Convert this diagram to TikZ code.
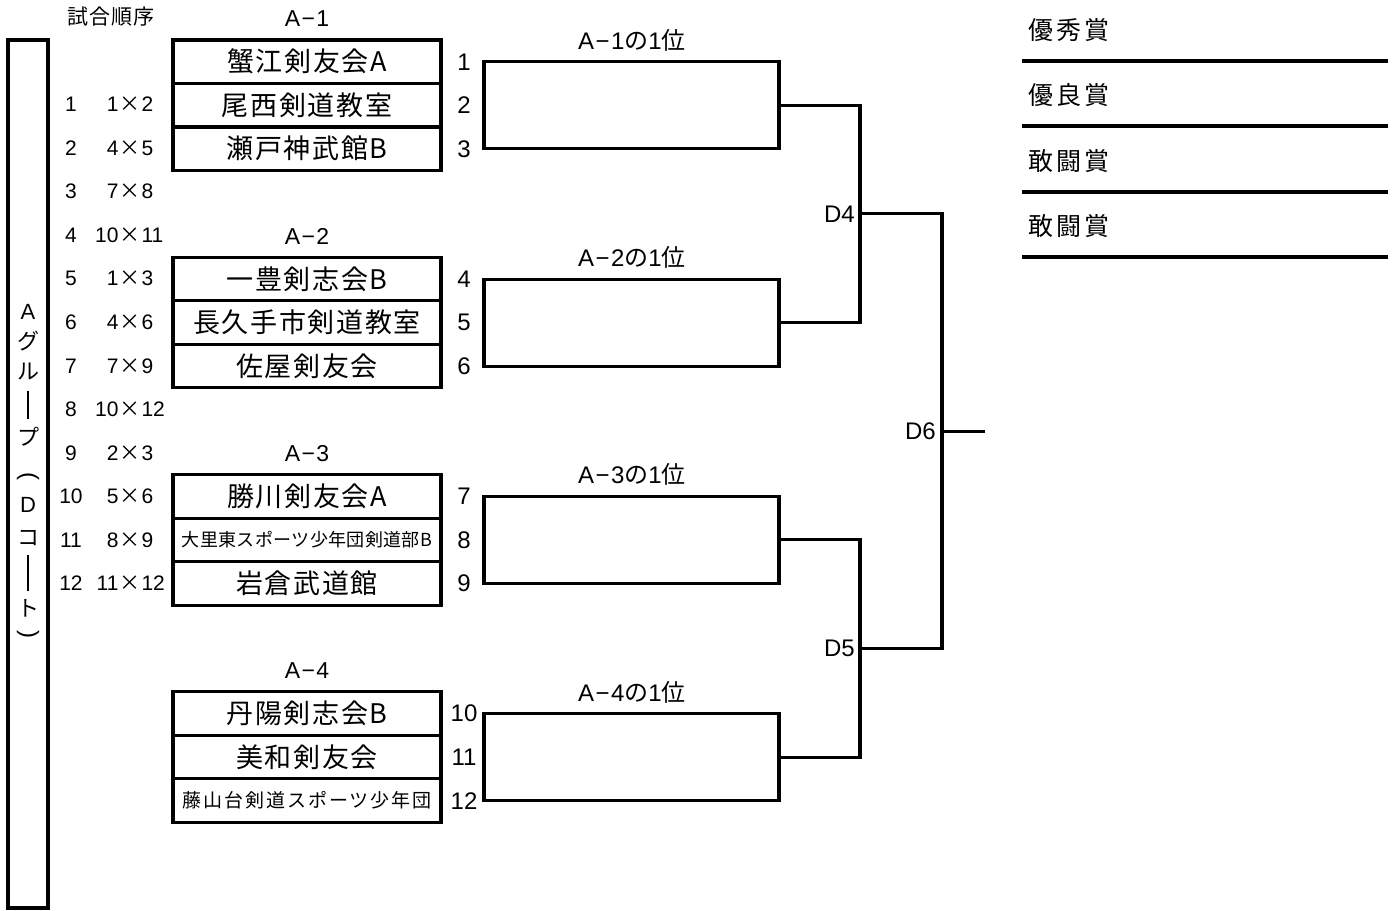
\documentclass[tikz,border=0pt]{standalone}
\usepackage{fontspec}
\setmainfont{Noto Sans CJK JP}
\newfontfamily\lat{Liberation Sans}
\newfontfamily\latsp[LetterSpace=6]{Liberation Sans}
\usetikzlibrary{calc}
\newcommand\fsz[1]{\fontsize{#1}{#1}\selectfont}
\tikzset{
  lw/.style={line width=3.1pt},
  team/.style={draw, lw, minimum width=268pt, minimum height=43.5pt, inner sep=0pt,
    font=\fsz{27}\addfontfeature{LetterSpace=6}},
  teamsmall/.style={team, font=\fsz{18}\addfontfeature{LetterSpace=2}},
  teamsmallb/.style={team, font=\fsz{19}\addfontfeature{LetterSpace=10}},
  seed/.style={inner sep=0pt, font=\fsz{24}\lat},
  grp/.style={inner sep=0pt, font=\fsz{23}\latsp},
  win/.style={inner sep=0pt, font=\fsz{24}\addfontfeature{LetterSpace=12}},
  lst/.style={inner sep=0pt, font=\fsz{21}\lat},
  vch/.style={inner sep=0pt, font=\fsz{22}},
  br/.style={lw, line join=miter},
  dlab/.style={inner sep=0pt, anchor=east, font=\fsz{24}\lat},
  award/.style={inner sep=0pt, anchor=west, font=\fsz{25}\addfontfeature{LetterSpace=12}},
}
\begin{document}
\begin{tikzpicture}[x=1pt,y=-1pt]
\useasboundingbox (0,0) rectangle (1396,910);

% left vertical box
\node[draw, lw, minimum width=40pt, minimum height=868pt, inner sep=0pt] (vbox) at (28,474) {};
\foreach \c/\yy [count=\i] in {{\lat A}/312, グ/341, ル/372, {\rule{1.8pt}{28pt}}/405, プ/437,
  {\rotatebox[origin=c]{-90}{\lat\fsz{24}(}}/478, {\lat D}/505, コ/538, {\rule{1.8pt}{36pt}}/573, ト/608,
  {\rotatebox[origin=c]{-90}{\lat\fsz{24})}}/636}
  \node[vch] (v\i) at (28,\yy) {\c};

% match order header
\node[inner sep=0pt, font=\fsz{21}\addfontfeature{LetterSpace=5}] (hdr) at (111,17) {試合順序};

% match order list
\foreach \a/\b/\c [count=\k] in {1/1/2, 2/4/5, 3/7/8, 4/10/11, 5/1/3, 6/4/6, 7/7/9, 8/10/12, 9/2/3, 10/5/6, 11/8/9, 12/11/12}{
  \pgfmathsetmacro\yy{104.5+43.55*(\k-1)}
  \node[lst] (ln\k) at (71,\yy) {\a};
  \node[lst] (lm\k) at (130,\yy) {\makebox[26pt][r]{\b}\hspace{1pt}{\rmfamily ×}\hspace{1pt}\makebox[26pt][l]{\c}};
}

% group labels
\foreach \g [count=\i] in {1,2,3,4}{
  \pgfmathsetmacro\yy{40+217.3*(\i-1)-21}
  \node[grp] (g\i) at (307,\yy) {A−\g};
  \pgfmathsetmacro\yb{62+217.3*(\i-1)-22}
  \node[win] (w\i) at (632,\yb) {{\latsp A−\g}の{\latsp 1}位};
}

% team boxes
\def\rowy#1#2{\pgfmathsetmacro\yy{40+217.3*(#1-1)+21.75+43.5*(#2-1)}}
\rowy11 \node[team] (t1) at (307,\yy) {蟹江剣友会A};
\rowy12 \node[team] (t2) at (307,\yy) {尾西剣道教室};
\rowy13 \node[team] (t3) at (307,\yy) {瀬戸神武館B};
\rowy21 \node[team] (t4) at (307,\yy) {一豊剣志会B};
\rowy22 \node[team] (t5) at (307,\yy) {長久手市剣道教室};
\rowy23 \node[team] (t6) at (307,\yy) {佐屋剣友会};
\rowy31 \node[team] (t7) at (307,\yy) {勝川剣友会A};
\rowy32 \node[teamsmall] (t8) at (307,\yy) {大里東スポーツ少年団剣道部B};
\rowy33 \node[team] (t9) at (307,\yy) {岩倉武道館};
\rowy41 \node[team] (t10) at (307,\yy) {丹陽剣志会B};
\rowy42 \node[team] (t11) at (307,\yy) {美和剣友会};
\rowy43 \node[teamsmallb] (t12) at (307,\yy) {藤山台剣道スポーツ少年団};

% seed numbers
\foreach \i in {1,...,12}
  \node[seed] (n\i) at (t\i.center -| 464,0) {\i};

% bracket
\coordinate (L) at (484,0);
\coordinate (R) at (779,0);
\coordinate (C1) at (860,0);
\coordinate (C2) at (942,0);
\foreach \a/\b in {1/3, 4/6, 7/9, 10/12}
  \draw[br] (n\a -| L) -- (n\a -| R) -- (n\b -| R) -- (n\b -| L) -- cycle;
\draw[br] (n2 -| R) -- (n2 -| C1) -- (n5 -| C1) -- (n5 -| R);
\draw[br] (n8 -| R) -- (n8 -| C1) -- (n11 -| C1) -- (n11 -| R);
\coordinate (d4) at ($(n2 -| C1)!0.5!(n5 -| C1)$);
\coordinate (d5) at ($(n8 -| C1)!0.5!(n11 -| C1)$);
\draw[br] (d4) -- (d4 -| C2) -- (d5 -| C2) -- (d5);
\coordinate (d6) at ($(d4 -| C2)!0.5!(d5 -| C2)$);
\coordinate (fin) at ($(d6)+(43,0)$);
\draw[br] (d6) -- (fin);
\node[dlab] (D4) at ($(d4)+(-5,0)$) {D4};
\node[dlab] (D5) at ($(d5)+(-5,0)$) {D5};
\node[dlab] (D6) at ($(d6)+(-6,0)$) {D6};

% awards
\foreach \t/\yy [count=\i] in {優秀賞/61, 優良賞/126, 敢闘賞/192, 敢闘賞/257}{
  \coordinate (al\i) at (1022,\yy);
  \coordinate (ar\i) at (1388,\yy);
  \draw[lw] (al\i) -- (ar\i);
  \node[award] (aw\i) at ($(al\i)+(6,-31)$) {\t};
}
\end{tikzpicture}
\end{document}
